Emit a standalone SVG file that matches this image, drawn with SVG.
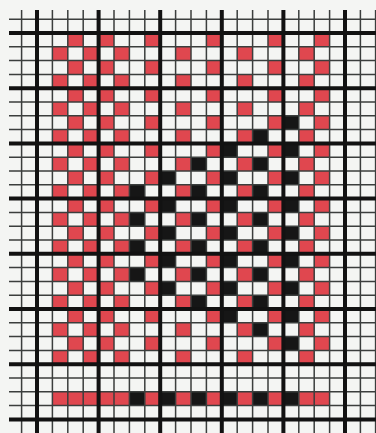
<svg xmlns="http://www.w3.org/2000/svg" width="376" height="433" viewBox="0 0 376 433">
<style>
.thin{stroke:#3b3e3d;stroke-width:1.5;fill:none}
.thick{stroke:#121212;stroke-width:4;fill:none}
.r{fill:#e0474f}
.k{fill:#161616}
</style>
<defs>
<pattern id="pe" patternUnits="userSpaceOnUse" x="0" y="33" width="400" height="27.6"><rect width="400" height="13.8" fill="#e0474f"/></pattern>
<pattern id="po" patternUnits="userSpaceOnUse" x="0" y="33" width="400" height="27.6"><rect y="13.8" width="400" height="13.8" fill="#e0474f"/></pattern>
<pattern id="be" patternUnits="userSpaceOnUse" x="0" y="33" width="400" height="27.6"><rect width="400" height="13.8" fill="#161616"/></pattern>
<pattern id="bo" patternUnits="userSpaceOnUse" x="0" y="33" width="400" height="27.6"><rect y="13.8" width="400" height="13.8" fill="#161616"/></pattern>
</defs>
<rect width="376" height="433" fill="#f4f5f3"/>
<g id="red-ground">
<rect x="67.8" y="33" width="15.4" height="331.2" fill="url(#pe)"/>
<rect x="98.6" y="33" width="15.4" height="331.2" fill="url(#pe)"/>
<rect x="144.8" y="33" width="15.4" height="331.2" fill="url(#pe)"/>
<rect x="206.4" y="33" width="15.4" height="331.2" fill="url(#pe)"/>
<rect x="268" y="33" width="15.4" height="331.2" fill="url(#pe)"/>
<rect x="314.2" y="33" width="15.4" height="331.2" fill="url(#pe)"/>
<rect x="52.4" y="33" width="15.4" height="331.2" fill="url(#po)"/>
<rect x="83.2" y="33" width="15.4" height="331.2" fill="url(#po)"/>
<rect x="114" y="33" width="15.4" height="331.2" fill="url(#po)"/>
<rect x="175.6" y="33" width="15.4" height="331.2" fill="url(#po)"/>
<rect x="237.2" y="33" width="15.4" height="331.2" fill="url(#po)"/>
<rect x="298.8" y="33" width="15.4" height="331.2" fill="url(#po)"/>
</g>
<g id="black-pattern">
<rect x="129.4" y="184.8" width="15.4" height="96.6" fill="url(#bo)"/>
<rect x="160.2" y="171" width="15.4" height="124.2" fill="url(#be)"/>
<rect x="191" y="157.2" width="15.4" height="151.8" fill="url(#bo)"/>
<rect x="221.8" y="143.4" width="15.4" height="179.4" fill="url(#be)"/>
<rect x="252.6" y="129.6" width="15.4" height="207" fill="url(#bo)"/>
<rect x="283.4" y="115.8" width="15.4" height="234.6" fill="url(#be)"/>
</g>
<g id="colour-row">
<rect class="r" x="52.4" y="391.8" width="77" height="13.8"/>
<rect class="k" x="129.4" y="391.8" width="15.4" height="13.8"/>
<rect class="r" x="144.8" y="391.8" width="15.4" height="13.8"/>
<rect class="k" x="160.2" y="391.8" width="15.4" height="13.8"/>
<rect class="r" x="175.6" y="391.8" width="15.4" height="13.8"/>
<rect class="k" x="191" y="391.8" width="15.4" height="13.8"/>
<rect class="r" x="206.4" y="391.8" width="15.4" height="13.8"/>
<rect class="k" x="221.8" y="391.8" width="15.4" height="13.8"/>
<rect class="r" x="237.2" y="391.8" width="15.4" height="13.8"/>
<rect class="k" x="252.6" y="391.8" width="15.4" height="13.8"/>
<rect class="r" x="268" y="391.8" width="15.4" height="13.8"/>
<rect class="k" x="283.4" y="391.8" width="15.4" height="13.8"/>
<rect class="r" x="298.8" y="391.8" width="30.8" height="13.8"/>
</g>
<g id="grid">
<path class="thin" d="M21.6 10V433M52.4 10V433M67.8 10V433M83.2 10V433M114 10V433M129.4 10V433M144.8 10V433M175.6 10V433M191 10V433M206.4 10V433M237.2 10V433M252.6 10V433M268 10V433M298.8 10V433M314.2 10V433M329.6 10V433M360.4 10V433M375.6 10V433"/>
<path class="thin" d="M9 19.2H376M9 46.8H376M9 60.6H376M9 74.4H376M9 102H376M9 115.8H376M9 129.6H376M9 157.2H376M9 171H376M9 184.8H376M9 212.4H376M9 226.2H376M9 240H376M9 267.6H376M9 281.4H376M9 295.2H376M9 322.8H376M9 336.6H376M9 350.4H376M9 378H376M9 391.8H376M9 405.6H376"/>
<path class="thick" d="M37 10V433M98.6 10V433M160.2 10V433M221.8 10V433M283.4 10V433M345 10V433"/>
<path class="thick" d="M9 33H376M9 88.2H376M9 143.4H376M9 198.6H376M9 253.8H376M9 309H376M9 364.2H376M9 419.4H376"/>
</g>
</svg>
